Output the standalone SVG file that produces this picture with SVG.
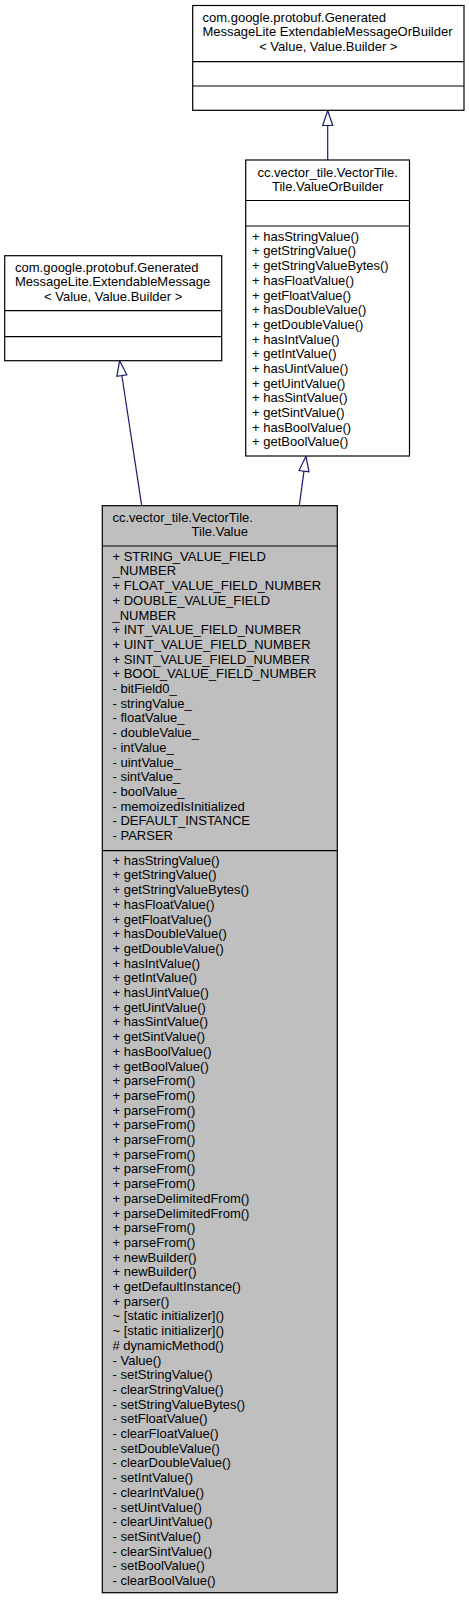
<svg xmlns="http://www.w3.org/2000/svg" width="469" height="1600" viewBox="0 0 469 1600">
<style>
text{font-family:"Liberation Sans",Arial,Helvetica,sans-serif;font-size:13px;fill:#000}
.box{fill:#fff;stroke:#000;stroke-width:1.2}
.cur{fill:#bfbfbf;stroke:#000;stroke-width:1.2}
.sep{stroke:#000;stroke-width:1.2}
.edge{stroke:#191970;stroke-width:1.2;fill:none}
.head{fill:#fff;stroke:#191970;stroke-width:1.2}
.c{text-anchor:middle}
</style>
<rect width="469" height="1600" fill="#fff"/>
<g id="connectors">
<line class="edge" x1="327.7" y1="160" x2="327.7" y2="125.5"/>
<polygon class="head" points="327.7,110.5 322.7,125.5 332.7,125.5"/>
<line class="edge" x1="299.3" y1="505.7" x2="304" y2="471.2"/>
<polygon class="head" points="306,456.3 299.04,470.53 308.96,471.87"/>
<line class="edge" x1="141.7" y1="505.7" x2="121.86" y2="375.5"/>
<polygon class="head" points="119.6,360.7 116.9,376.3 126.8,374.8"/>
</g>
<g id="node_ExtendableMessageOrBuilder">
<rect class="box" x="192.7" y="5.5" width="271.3" height="104.8"/>
<line class="sep" x1="192.7" y1="61.7" x2="464" y2="61.7"/>
<line class="sep" x1="192.7" y1="86" x2="464" y2="86"/>
<text x="202.5" y="21.5">com.google.protobuf.Generated</text>
<text x="202.5" y="36.2">MessageLite ExtendableMessageOrBuilder</text>
<text class="c" x="328.3" y="50.9">&lt; Value, Value.Builder &gt;</text>
</g>
<g id="node_ValueOrBuilder">
<rect class="box" x="245.7" y="160" width="163.8" height="296"/>
<line class="sep" x1="245.7" y1="200.5" x2="409.5" y2="200.5"/>
<line class="sep" x1="245.7" y1="226" x2="409.5" y2="226"/>
<text class="c" x="327.6" y="176.5">cc.vector_tile.VectorTile.</text>
<text class="c" x="327.6" y="191.2">Tile.ValueOrBuilder</text>
<text x="252" y="240.7"><tspan x="252">+ hasStringValue()</tspan><tspan x="252" dy="14.7">+ getStringValue()</tspan><tspan x="252" dy="14.7">+ getStringValueBytes()</tspan><tspan x="252" dy="14.7">+ hasFloatValue()</tspan><tspan x="252" dy="14.7">+ getFloatValue()</tspan><tspan x="252" dy="14.7">+ hasDoubleValue()</tspan><tspan x="252" dy="14.7">+ getDoubleValue()</tspan><tspan x="252" dy="14.7">+ hasIntValue()</tspan><tspan x="252" dy="14.7">+ getIntValue()</tspan><tspan x="252" dy="14.7">+ hasUintValue()</tspan><tspan x="252" dy="14.7">+ getUintValue()</tspan><tspan x="252" dy="14.7">+ hasSintValue()</tspan><tspan x="252" dy="14.7">+ getSintValue()</tspan><tspan x="252" dy="14.7">+ hasBoolValue()</tspan><tspan x="252" dy="14.7">+ getBoolValue()</tspan></text>
</g>
<g id="node_ExtendableMessage">
<rect class="box" x="4.7" y="255.7" width="217" height="105"/>
<line class="sep" x1="4.7" y1="310.7" x2="221.7" y2="310.7"/>
<line class="sep" x1="4.7" y1="336.7" x2="221.7" y2="336.7"/>
<text x="15" y="271.7">com.google.protobuf.Generated</text>
<text x="15" y="286.4">MessageLite.ExtendableMessage</text>
<text class="c" x="113.2" y="301.1">&lt; Value, Value.Builder &gt;</text>
</g>
<g id="node_Value">
<rect class="cur" x="102.3" y="505.7" width="235" height="1087"/>
<line class="sep" x1="102.3" y1="546" x2="337.3" y2="546"/>
<line class="sep" x1="102.3" y1="850.7" x2="337.3" y2="850.7"/>
<text x="112.5" y="521.7">cc.vector_tile.VectorTile.</text>
<text class="c" x="219.8" y="536.4">Tile.Value</text>
<text x="112.5" y="560.7"><tspan x="112.5">+ STRING_VALUE_FIELD</tspan><tspan x="112.5" dy="14.7">_NUMBER</tspan><tspan x="112.5" dy="14.7">+ FLOAT_VALUE_FIELD_NUMBER</tspan><tspan x="112.5" dy="14.7">+ DOUBLE_VALUE_FIELD</tspan><tspan x="112.5" dy="14.7">_NUMBER</tspan><tspan x="112.5" dy="14.7">+ INT_VALUE_FIELD_NUMBER</tspan><tspan x="112.5" dy="14.7">+ UINT_VALUE_FIELD_NUMBER</tspan><tspan x="112.5" dy="14.7">+ SINT_VALUE_FIELD_NUMBER</tspan><tspan x="112.5" dy="14.7">+ BOOL_VALUE_FIELD_NUMBER</tspan><tspan x="112.5" dy="14.7">- bitField0_</tspan><tspan x="112.5" dy="14.7">- stringValue_</tspan><tspan x="112.5" dy="14.7">- floatValue_</tspan><tspan x="112.5" dy="14.7">- doubleValue_</tspan><tspan x="112.5" dy="14.7">- intValue_</tspan><tspan x="112.5" dy="14.7">- uintValue_</tspan><tspan x="112.5" dy="14.7">- sintValue_</tspan><tspan x="112.5" dy="14.7">- boolValue_</tspan><tspan x="112.5" dy="14.7">- memoizedIsInitialized</tspan><tspan x="112.5" dy="14.7">- DEFAULT_INSTANCE</tspan><tspan x="112.5" dy="14.7">- PARSER</tspan></text>
<text x="112.5" y="864.7"><tspan x="112.5">+ hasStringValue()</tspan><tspan x="112.5" dy="14.7">+ getStringValue()</tspan><tspan x="112.5" dy="14.7">+ getStringValueBytes()</tspan><tspan x="112.5" dy="14.7">+ hasFloatValue()</tspan><tspan x="112.5" dy="14.7">+ getFloatValue()</tspan><tspan x="112.5" dy="14.7">+ hasDoubleValue()</tspan><tspan x="112.5" dy="14.7">+ getDoubleValue()</tspan><tspan x="112.5" dy="14.7">+ hasIntValue()</tspan><tspan x="112.5" dy="14.7">+ getIntValue()</tspan><tspan x="112.5" dy="14.7">+ hasUintValue()</tspan><tspan x="112.5" dy="14.7">+ getUintValue()</tspan><tspan x="112.5" dy="14.7">+ hasSintValue()</tspan><tspan x="112.5" dy="14.7">+ getSintValue()</tspan><tspan x="112.5" dy="14.7">+ hasBoolValue()</tspan><tspan x="112.5" dy="14.7">+ getBoolValue()</tspan><tspan x="112.5" dy="14.7">+ parseFrom()</tspan><tspan x="112.5" dy="14.7">+ parseFrom()</tspan><tspan x="112.5" dy="14.7">+ parseFrom()</tspan><tspan x="112.5" dy="14.7">+ parseFrom()</tspan><tspan x="112.5" dy="14.7">+ parseFrom()</tspan><tspan x="112.5" dy="14.7">+ parseFrom()</tspan><tspan x="112.5" dy="14.7">+ parseFrom()</tspan><tspan x="112.5" dy="14.7">+ parseFrom()</tspan><tspan x="112.5" dy="14.7">+ parseDelimitedFrom()</tspan><tspan x="112.5" dy="14.7">+ parseDelimitedFrom()</tspan><tspan x="112.5" dy="14.7">+ parseFrom()</tspan><tspan x="112.5" dy="14.7">+ parseFrom()</tspan><tspan x="112.5" dy="14.7">+ newBuilder()</tspan><tspan x="112.5" dy="14.7">+ newBuilder()</tspan><tspan x="112.5" dy="14.7">+ getDefaultInstance()</tspan><tspan x="112.5" dy="14.7">+ parser()</tspan><tspan x="112.5" dy="14.7">~ [static initializer]()</tspan><tspan x="112.5" dy="14.7">~ [static initializer]()</tspan><tspan x="112.5" dy="14.7"># dynamicMethod()</tspan><tspan x="112.5" dy="14.7">- Value()</tspan><tspan x="112.5" dy="14.7">- setStringValue()</tspan><tspan x="112.5" dy="14.7">- clearStringValue()</tspan><tspan x="112.5" dy="14.7">- setStringValueBytes()</tspan><tspan x="112.5" dy="14.7">- setFloatValue()</tspan><tspan x="112.5" dy="14.7">- clearFloatValue()</tspan><tspan x="112.5" dy="14.7">- setDoubleValue()</tspan><tspan x="112.5" dy="14.7">- clearDoubleValue()</tspan><tspan x="112.5" dy="14.7">- setIntValue()</tspan><tspan x="112.5" dy="14.7">- clearIntValue()</tspan><tspan x="112.5" dy="14.7">- setUintValue()</tspan><tspan x="112.5" dy="14.7">- clearUintValue()</tspan><tspan x="112.5" dy="14.7">- setSintValue()</tspan><tspan x="112.5" dy="14.7">- clearSintValue()</tspan><tspan x="112.5" dy="14.7">- setBoolValue()</tspan><tspan x="112.5" dy="14.7">- clearBoolValue()</tspan></text>
</g>
</svg>
